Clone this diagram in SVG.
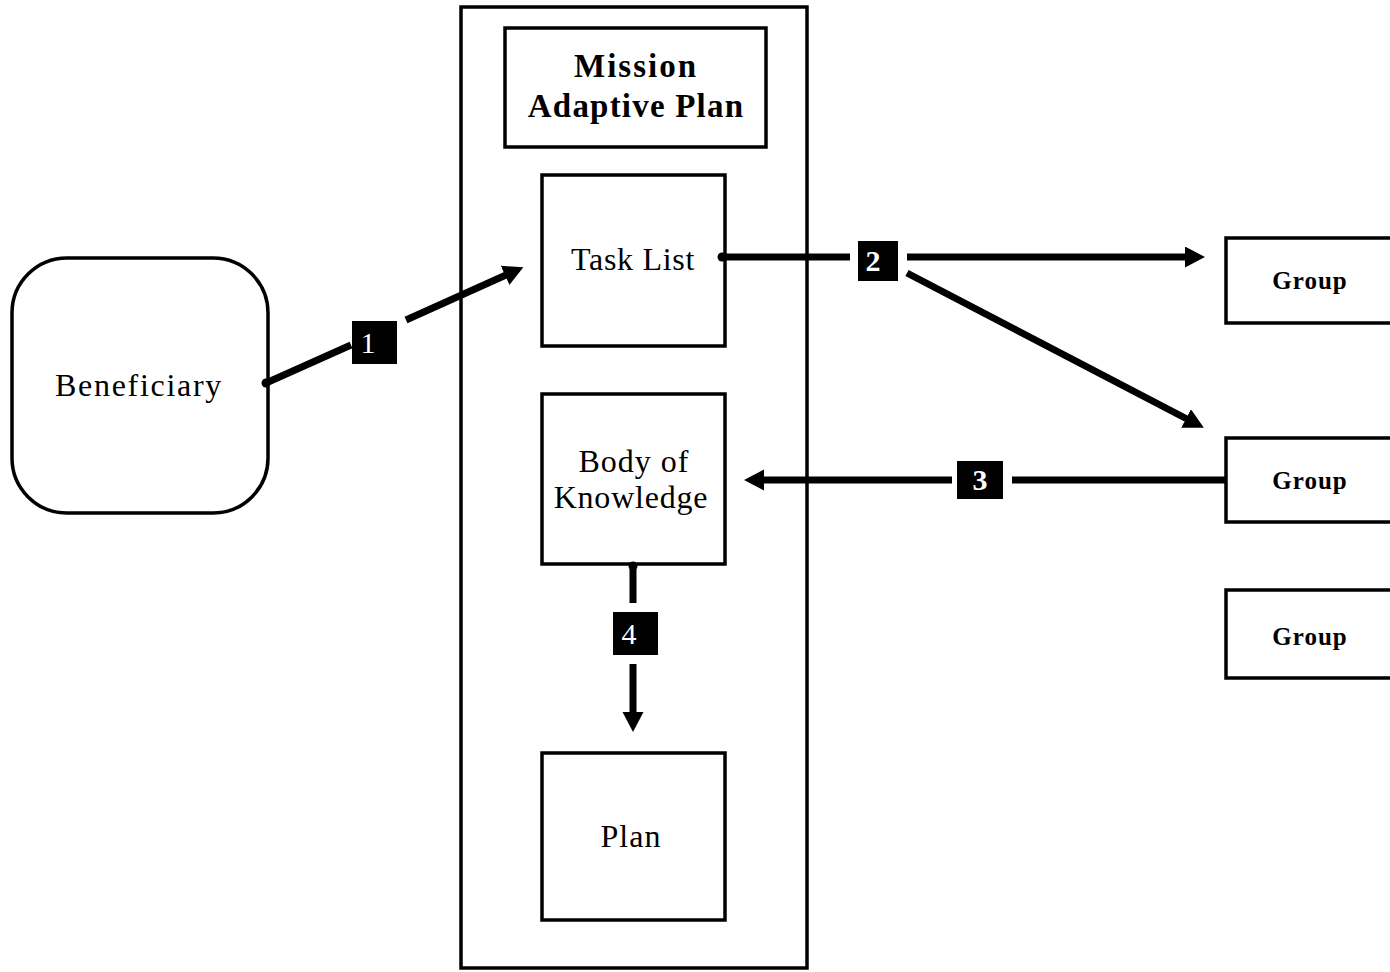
<svg xmlns="http://www.w3.org/2000/svg" width="1390" height="972" viewBox="0 0 1390 972">
  <style>
    .box { fill: #fff; stroke: #000; stroke-width: 3.5; }
    .conn { stroke: #000; stroke-width: 7; fill: none; }
    .lbl { fill: #000; }
    .num { font-family: "Liberation Serif", "Times New Roman", serif; font-size: 30px; fill: #fff; text-anchor: middle; }
    .txt { font-family: "Liberation Serif", "Times New Roman", serif; font-size: 32px; fill: #000; text-anchor: middle; }
    .title { font-family: "Liberation Serif", "Times New Roman", serif; font-size: 33px; font-weight: bold; fill: #000; text-anchor: middle; }
    .grp { font-family: "Liberation Serif", "Times New Roman", serif; font-size: 25px; font-weight: bold; fill: #000; text-anchor: middle; letter-spacing: 1px; }
  </style>
  <defs>
    <marker id="arrow" markerUnits="userSpaceOnUse" markerWidth="22" markerHeight="22" refX="1" refY="10.5" orient="auto">
      <path d="M0,0 L20,10.5 L0,21 z" fill="#000"/>
    </marker>
  </defs>

  <rect width="1390" height="972" fill="#fff"/>

  <!-- container: mission adaptive plan -->
  <g id="container">
    <rect class="box" x="461" y="7" width="346" height="961"/>
  </g>

  <g id="mission">
    <rect class="box" x="505" y="28" width="261" height="119"/>
    <text class="title" x="636" y="77" letter-spacing="2">Mission</text>
    <text class="title" x="636" y="117" letter-spacing="1.2">Adaptive Plan</text>
  </g>

  <g id="task-list">
    <rect class="box" x="542" y="175" width="183" height="171"/>
    <text class="txt" x="633" y="270" letter-spacing="0.7">Task List</text>
  </g>

  <g id="body-of-knowledge">
    <rect class="box" x="542" y="394" width="183" height="170"/>
    <text class="txt" x="634" y="472" letter-spacing="1">Body of</text>
    <text class="txt" x="631" y="508" letter-spacing="0.8">Knowledge</text>
  </g>

  <g id="plan">
    <rect class="box" x="542" y="753" width="183" height="167"/>
    <text class="txt" x="631" y="847" letter-spacing="1">Plan</text>
  </g>

  <g id="beneficiary">
    <rect class="box" x="12" y="258" width="256" height="255" rx="55" ry="55"/>
    <text class="txt" x="139" y="396" letter-spacing="1.7">Beneficiary</text>
  </g>

  <g id="group-1">
    <rect class="box" x="1226" y="238" width="180" height="85"/>
    <text class="grp" x="1310" y="289">Group</text>
  </g>
  <g id="group-2">
    <rect class="box" x="1226" y="438" width="180" height="84"/>
    <text class="grp" x="1310" y="489">Group</text>
  </g>
  <g id="group-3">
    <rect class="box" x="1226" y="590" width="180" height="88"/>
    <text class="grp" x="1310" y="645">Group</text>
  </g>

  <!-- connectors -->
  <g id="connectors">
    <!-- 1: beneficiary to task list -->
    <circle cx="266" cy="383" r="4.5" fill="#000"/>
    <line class="conn" x1="266" y1="383" x2="351" y2="345"/>
    <line class="conn" x1="406" y1="320" x2="506" y2="275" marker-end="url(#arrow)"/>
    <rect class="lbl" x="352" y="321" width="45" height="43"/>
    <text class="num" x="368" y="353">1</text>

    <!-- 2: task list to groups -->
    <circle cx="722" cy="257" r="4.5" fill="#000"/>
    <line class="conn" x1="722" y1="257" x2="850" y2="257"/>
    <line class="conn" x1="907" y1="257" x2="1186" y2="257" marker-end="url(#arrow)"/>
    <line class="conn" x1="907" y1="273" x2="1187" y2="419" marker-end="url(#arrow)"/>
    <rect class="lbl" x="858" y="241" width="40" height="40"/>
    <text class="num" x="873" y="271" font-weight="bold">2</text>

    <!-- 3: group back to body of knowledge -->
    <line class="conn" x1="1226" y1="480" x2="1012" y2="480"/>
    <line class="conn" x1="952" y1="480" x2="763" y2="480" marker-end="url(#arrow)"/>
    <rect class="lbl" x="957" y="461" width="46" height="38"/>
    <text class="num" x="980" y="490" font-weight="bold">3</text>

    <!-- 4: body of knowledge to plan -->
    <circle cx="633" cy="566" r="4.5" fill="#000"/>
    <line class="conn" x1="633" y1="566" x2="633" y2="603"/>
    <line class="conn" x1="633" y1="664" x2="633" y2="713" marker-end="url(#arrow)"/>
    <rect class="lbl" x="613" y="612" width="45" height="43"/>
    <text class="num" x="629" y="644">4</text>
  </g>
</svg>
